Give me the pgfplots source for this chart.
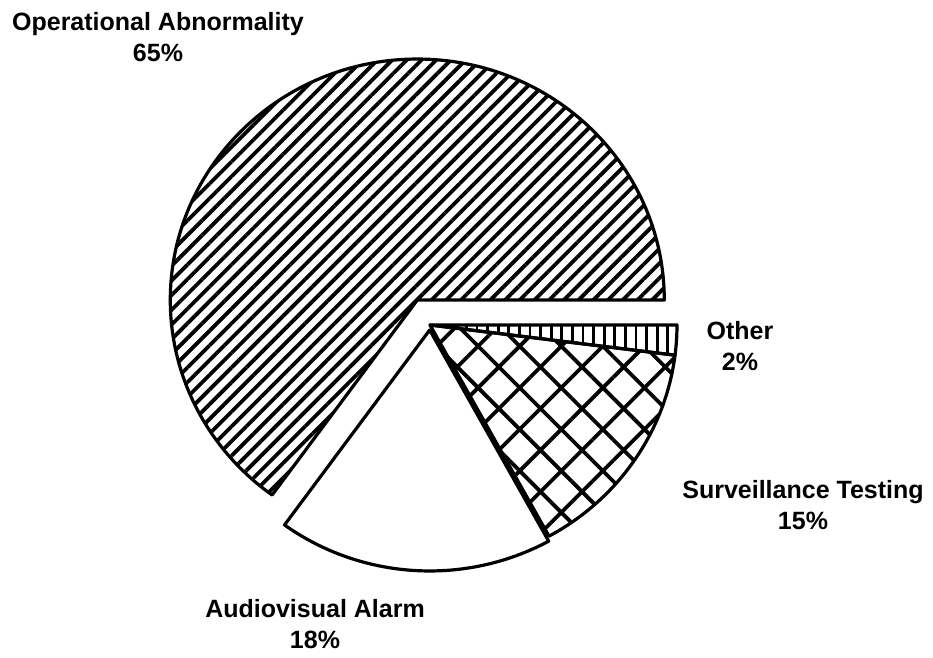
\documentclass[border=0pt]{standalone}
\usepackage{fontspec}
\setmainfont{Liberation Sans}
\usepackage{pgfplots}
\pgfplotsset{compat=1.18}
\usetikzlibrary{patterns.meta}

% shares in percent
\def\pOper{65}
\def\pAudio{18}
\def\pSurv{15}
\def\pOther{2}

\begin{document}
\begin{tikzpicture}
  % cumulative angles, counter-clockwise from east
  \pgfmathsetmacro{\aA}{0}
  \pgfmathsetmacro{\aB}{\aA+3.6*\pOper}
  \pgfmathsetmacro{\aC}{\aB+3.6*\pAudio}
  \pgfmathsetmacro{\aD}{\aC+3.6*\pSurv}
  \pgfmathsetmacro{\aE}{\aD+3.6*\pOther}
  % explode offsets (axis units) along the mid angle
  \pgfmathsetmacro{\oxA}{28*cos((\aA+\aB)/2)}
  \pgfmathsetmacro{\oyA}{28*sin((\aA+\aB)/2)}
  \pgfmathsetmacro{\oxB}{5*cos((\aB+\aC)/2)}
  \pgfmathsetmacro{\oyB}{5*sin((\aB+\aC)/2)}
  \def\cx{430}\def\cy{333}
  \begin{axis}[
    scale only axis, width=466.5pt, height=329pt,
    xmin=0, xmax=933, ymin=0, ymax=658,
    hide axis, clip=false,
    nodes={font=\bfseries\fontsize{12.5}{15.5}\selectfont, align=center},
  ]
    \path (axis cs:0,0) rectangle (axis cs:933,658);
    \tikzset{wedge/.style={line width=1.6pt, line join=round}}
    % Operational Abnormality
    \draw[wedge, pattern={Lines[angle=45,distance=5.2pt,line width=1.9pt]}]
      (axis cs:\cx+\oxA,\cy+\oyA) -- +(\aA:123.5pt and 120.5pt)
      arc[start angle=\aA, end angle=\aB, x radius=123.5pt, y radius=120.5pt] -- cycle;
    % Audiovisual Alarm
    \draw[wedge, fill=white]
      (axis cs:\cx+\oxB,\cy+\oyB) -- +(\aB:123.5pt and 120.5pt)
      arc[start angle=\aB, end angle=\aC, x radius=123.5pt, y radius=120.5pt] -- cycle;
    % Surveillance Testing
    \draw[wedge, pattern={Hatch[angle=45,distance=14.7pt,line width=1.9pt]}]
      (axis cs:\cx,\cy) -- +(\aC:123.5pt and 120.5pt)
      arc[start angle=\aC, end angle=\aD, x radius=123.5pt, y radius=120.5pt] -- cycle;
    % Other
    \draw[wedge, pattern={Lines[angle=90,distance=5.3pt,line width=1.4pt]}]
      (axis cs:\cx,\cy) -- +(\aD:123.5pt and 120.5pt)
      arc[start angle=\aD, end angle=\aE, x radius=123.5pt, y radius=120.5pt] -- cycle;

    \node at (axis cs:158,621) {Operational Abnormality\\\pOper\%};
    \node at (axis cs:740,312) {Other\\\pOther\%};
    \node at (axis cs:803,153) {Surveillance Testing\\\pSurv\%};
    \node at (axis cs:315,34) {Audiovisual Alarm\\\pAudio\%};
  \end{axis}
\end{tikzpicture}
\end{document}
